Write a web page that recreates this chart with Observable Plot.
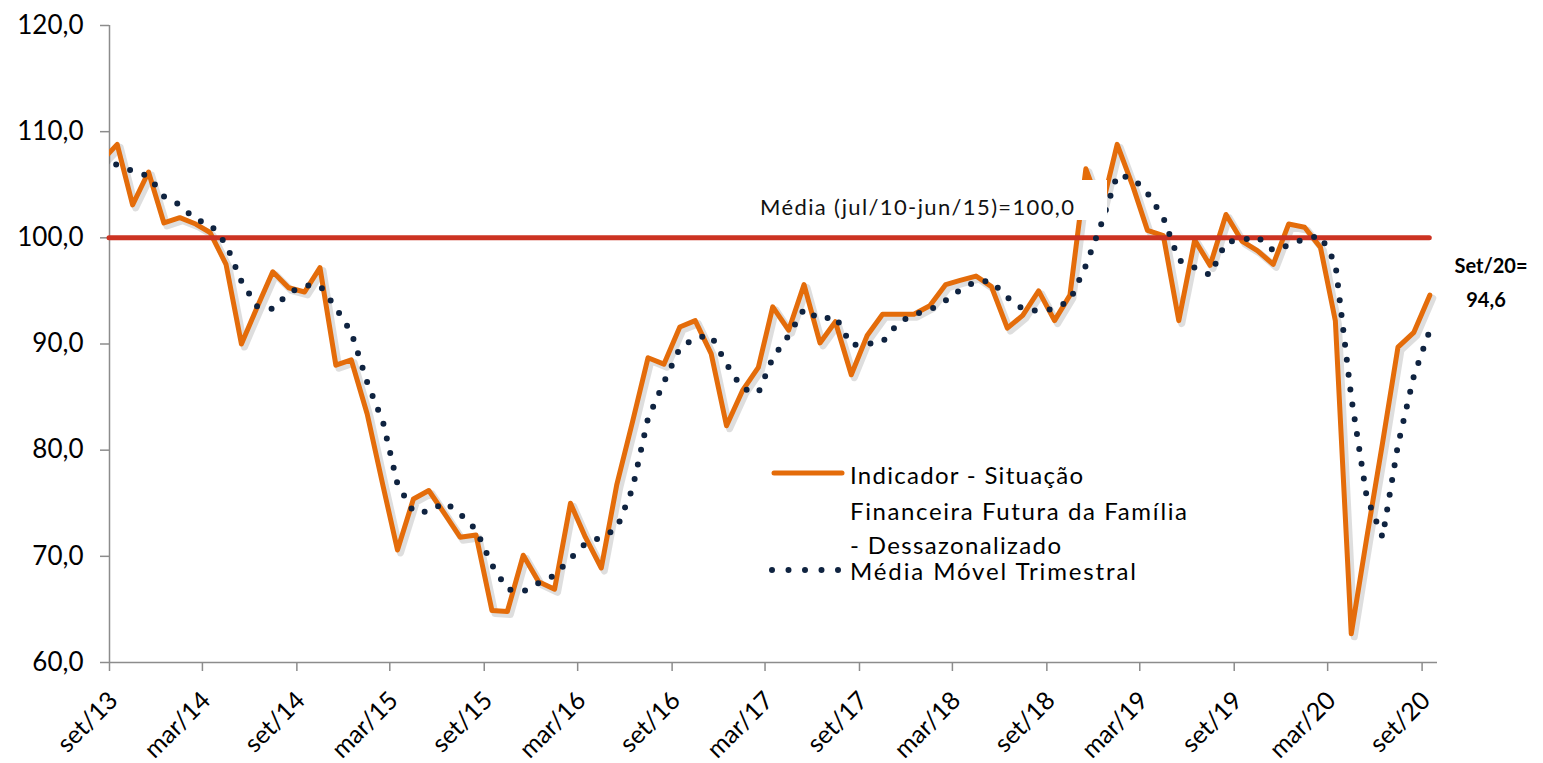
<!DOCTYPE html>
<html><head><meta charset="utf-8">
<script src="https://cdn.jsdelivr.net/npm/d3@7"></script>
<script src="https://cdn.jsdelivr.net/npm/@observablehq/plot@0.6"></script>
<style>
body{margin:0;background:#fff;}
#wrap{position:relative;width:1543px;height:763px;overflow:hidden;}
</style></head><body><div id="wrap"></div>
<script>
// Monthly series from ago/13 to set/20 (first month lies just before the axis start and is clipped)
const firstMonth = [2013, 7]; // year, month index (ago/13)
const indicador = [
  107.2,
  108.8,103.1,106.2,101.4,
  101.9,101.3,100.5,97.5,90.0,93.5,96.8,95.3,94.9,97.2,88.0,88.5,
  83.4,76.6,70.6,75.4,76.2,74.0,71.8,72.0,64.9,64.8,70.1,67.6,
  66.9,75.0,71.8,68.9,76.7,82.7,88.7,88.1,91.6,92.2,89.1,82.3,
  85.6,87.8,93.5,91.3,95.6,90.1,92.1,87.1,90.8,92.8,92.8,92.8,
  93.6,95.6,96.0,96.4,95.4,91.5,92.7,95.0,92.2,94.6,106.5,102.6,
  108.8,104.8,100.7,100.2,92.2,99.8,97.4,102.2,99.7,98.8,97.5,101.3,
  101.0,99.1,92.2,62.7,71.7,80.7,89.7,91.1,94.6
];
const mediaMovel = [
  107.1,
  106.9,106.3,105.8,103.9,
  103.1,101.7,101.3,99.4,95.9,93.5,93.3,94.8,95.5,95.5,93.4,91.1,
  86.4,82.6,76.8,74.2,74.2,75.1,74.0,72.5,69.2,66.9,66.7,67.5,
  68.2,69.8,71.2,71.8,72.6,76.4,83.0,86.4,89.6,90.6,90.8,88.1,
  85.8,85.4,88.7,90.8,93.3,92.3,92.6,89.9,90.0,90.2,92.0,92.8,
  93.2,94.1,95.1,95.9,95.9,94.4,93.3,93.1,93.3,94.1,97.4,101.3,
  105.9,105.6,104.2,101.9,97.9,97.2,96.5,99.6,99.8,100.1,98.8,99.3,
  99.9,100.2,97.6,85.0,75.6,71.8,80.5,87.0,91.3
];
const mediaReferencia = 100;
const yTicks = [60,70,80,90,100,110,120];
const xTickLabels = ["set/13","mar/14","set/14","mar/15","set/15","mar/16","set/16","mar/17","set/17","mar/18","set/18","mar/19","set/19","mar/20","set/20"];
const legendLabels = ["Indicador - Situação","Financeira Futura da Família","- Dessazonalizado","Média Móvel Trimestral"];
const refLabel = "Média (jul/10-jun/15)=100,0";
const lastLabel = ["Set/20=","94,6"];

const ORANGE = "#e46c0a", NAVY = "#0f2340", RED = "#cc3322", AXIS = "#8c8c8c";

const data = indicador.map((v, i) => ({
  date: new Date(Date.UTC(firstMonth[0], firstMonth[1] + i, 16)),
  ind: v,
  mm: mediaMovel[i]
}));
const xStart = new Date(Date.UTC(2013, 8, 1));
const xEnd = new Date(Date.UTC(2020, 9, 1));
const xTickDates = xTickLabels.map((_, i) => new Date(Date.UTC(2013, 8 + 6 * i, 1)));
const labelMap = new Map(xTickDates.map((d, i) => [+d, xTickLabels[i]]));
const lastDate = data[data.length - 1].date;

const chart = Plot.plot({
  width: 1543, height: 763,
  marginLeft: 109, marginRight: 106, marginTop: 25, marginBottom: 101,
  style: {fontFamily: "Lato, sans-serif", color: "#000", background: "#fff", overflow: "visible"},
  x: {type: "utc", domain: [xStart, xEnd]},
  y: {domain: [60, 120]},
  marks: [
    Plot.axisY({ticks: yTicks, tickFormat: d => d.toFixed(1).replace(".", ","), tickSize: 9, tickPadding: 17, stroke: AXIS, strokeWidth: 1.5, fontSize: 26, label: null}),
    // tick marks only
    Plot.axisX({ticks: xTickDates, tickFormat: () => "", tickSize: 9, stroke: AXIS, strokeWidth: 1.5, label: null}),
    // rotated tick labels only
    Plot.axisX({ticks: xTickDates, tickFormat: d => labelMap.get(+d), tickSize: 0, tickRotate: -45, fontSize: 25, label: null, dx: 4, dy: 22}),
    Plot.ruleY([60], {stroke: AXIS, strokeWidth: 1.5}),
    Plot.ruleX([xStart], {stroke: AXIS, strokeWidth: 1.5}),
    // soft drop shadow of the indicator line
    Plot.lineY(data, {x: "date", y: "ind", stroke: "#000", strokeOpacity: 0.13, strokeWidth: 7, dx: 3, dy: 3, clip: true}),
    Plot.lineY(data, {x: "date", y: "ind", stroke: ORANGE, strokeWidth: 5, clip: true}),
    Plot.ruleY([mediaReferencia], {x1: xStart, x2: lastDate, stroke: RED, strokeWidth: 5, strokeLinecap: "round"}),
    Plot.lineY(data, {x: "date", y: "mm", stroke: NAVY, strokeWidth: 6, strokeDasharray: "0 15", strokeLinecap: "round", clip: true})
  ]
});
document.getElementById("wrap").appendChild(chart);

const svg = d3.select(chart);

// annotation: reference label with white box
const ann = svg.append("g").attr("font-family", "Lato, sans-serif").attr("text-anchor", "start");
ann.append("rect").attr("x", 752).attr("y", 180).attr("width", 355).attr("height", 40).attr("fill", "#fff");
ann.append("text").attr("x", 760).attr("y", 215).attr("font-size", 22).attr("fill", "#111")
  .attr("textLength", 314).attr("lengthAdjust", "spacing").text(refLabel);

// last value label
const lv = svg.append("g").attr("font-family", "Lato, sans-serif").attr("font-weight", "bold").attr("font-size", 20).attr("text-anchor", "middle").attr("fill", "#000");
lv.append("text").attr("x", 1491).attr("y", 273).text(lastLabel[0]);
lv.append("text").attr("x", 1486).attr("y", 307).text(lastLabel[1]);

// legend
const lg = svg.append("g").attr("font-family", "Lato, sans-serif").attr("font-size", 24).attr("fill", "#000").attr("text-anchor", "start");
lg.append("line").attr("x1", 774).attr("x2", 842).attr("y1", 473).attr("y2", 473).attr("stroke", ORANGE).attr("stroke-width", 5).attr("stroke-linecap", "round");
lg.append("line").attr("x1", 772).attr("x2", 840).attr("y1", 570).attr("y2", 570).attr("stroke", NAVY).attr("stroke-width", 6).attr("stroke-dasharray", "0 16.5").attr("stroke-linecap", "round");
const lgY = [484, 520, 554, 580];
const lgW = [233, 337, 211, 286];
legendLabels.forEach((t, i) => {
  lg.append("text").attr("x", 850).attr("y", lgY[i]).attr("textLength", lgW[i]).attr("lengthAdjust", "spacing").text(t);
});
</script>
</body></html>
